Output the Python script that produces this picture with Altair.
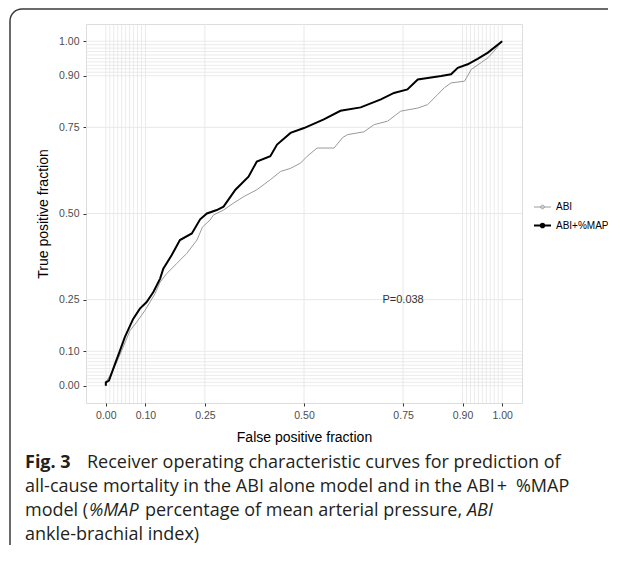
import altair as alt
import pandas as pd

# ---------------- data ----------------
series_names = ["ABI", "ABI+%MAP"]

abi_fpf = [0.0, 0.0, 0.018, 0.04, 0.061, 0.078, 0.099, 0.124, 0.137, 0.154, 0.179, 0.204,
           0.23, 0.244, 0.263, 0.272, 0.297, 0.322, 0.348, 0.381, 0.415, 0.441, 0.466,
           0.491, 0.508, 0.533, 0.576, 0.597, 0.61, 0.651, 0.677, 0.711, 0.744, 0.787,
           0.812, 0.837, 0.854, 0.871, 0.905, 0.922, 0.947, 0.964, 0.98, 1.0]
abi_tpf = [0.0, 0.01, 0.044, 0.102, 0.16, 0.185, 0.219, 0.267, 0.301, 0.326, 0.355, 0.384,
           0.423, 0.461, 0.481, 0.496, 0.51, 0.53, 0.549, 0.569, 0.598, 0.622, 0.631,
           0.646, 0.666, 0.69, 0.69, 0.72, 0.729, 0.737, 0.758, 0.768, 0.797, 0.806,
           0.816, 0.845, 0.865, 0.879, 0.884, 0.918, 0.938, 0.952, 0.972, 1.0]

map_fpf = [0.0, 0.0, 0.008, 0.023, 0.035, 0.048, 0.069, 0.086, 0.103, 0.12, 0.137, 0.145,
           0.166, 0.187, 0.217, 0.238, 0.255, 0.28, 0.297, 0.327, 0.36, 0.381, 0.415,
           0.432, 0.466, 0.5, 0.55, 0.592, 0.643, 0.694, 0.727, 0.761, 0.787, 0.846,
           0.871, 0.888, 0.913, 0.938, 0.964, 1.0]
map_tpf = [0.0, 0.01, 0.015, 0.063, 0.1, 0.141, 0.194, 0.224, 0.243, 0.272, 0.311, 0.34,
           0.379, 0.423, 0.442, 0.483, 0.5, 0.51, 0.52, 0.569, 0.607, 0.651, 0.666,
           0.7, 0.734, 0.748, 0.773, 0.798, 0.808, 0.831, 0.85, 0.86, 0.889, 0.899,
           0.904, 0.923, 0.933, 0.949, 0.967, 1.0]

major_breaks = [0.0, 0.1, 0.25, 0.5, 0.75, 0.9, 1.0]
major_grid = [0.25, 0.5, 0.75]
minor_breaks = [0.0, 0.01, 0.02, 0.03, 0.04, 0.05, 0.06, 0.07, 0.08, 0.09, 0.1,
                0.9, 0.91, 0.92, 0.93, 0.94, 0.95, 0.96, 0.97, 0.98, 0.99, 1.0]

x_title = "False positive fraction"
y_title = "True positive fraction"
p_label = ["P=0.038"]
p_pos_x = [0.75]
p_pos_y = [0.25]

cap_fig = "Fig. 3"
cap_l1 = "Receiver operating characteristic curves for prediction of"
cap_l2 = "all-cause mortality in the ABI alone model and in the ABI\u200a+\u2002%MAP"
cap_l3a = "model ("
cap_l3b = "%MAP"
cap_l3c = "percentage of mean arterial pressure,"
cap_l3d = "ABI"
cap_l4 = "ankle-brachial index)"

# ---------------- chart ----------------
W, H = 436, 379
AX_FONT = "Liberation Sans"
CAP_FONT = "Open Sans"
CAP_SIZE = 18

roc = pd.DataFrame({
    "fpf": abi_fpf + map_fpf,
    "tpf": abi_tpf + map_tpf,
    "model": [series_names[0]] * len(abi_fpf) + [series_names[1]] * len(map_fpf),
    "ord": list(range(len(abi_fpf))) + list(range(len(map_fpf))),
})

xs = alt.Scale(domain=[-0.05, 1.05], nice=False, zero=False)
ys = alt.Scale(domain=[-0.05, 1.05], nice=False, zero=False)

common_axis = dict(values=major_breaks, format=".2f", grid=False, domain=False,
                   tickSize=3, tickColor="#333333", tickWidth=1, labelPadding=4,
                   labelFont=AX_FONT, labelFontSize=10.5, labelColor="#4d4d4d",
                   titleFont=AX_FONT, titleFontSize=14, titleFontWeight="normal",
                   titleColor="#000000", labelOverlap=False, labelFlush=False)
xaxis = alt.Axis(title=x_title, titlePadding=10, **common_axis)
yaxis = alt.Axis(title=y_title, titlePadding=8, **common_axis)

frame = alt.Chart(pd.DataFrame({"a": [0]})).mark_rect(
    filled=False, stroke="#3a3a3a", strokeWidth=1.5, cornerRadius=12
).encode(x=alt.value(-76), x2=alt.value(700), y=alt.value(-15), y2=alt.value(700))

grid_minor_x = alt.Chart(pd.DataFrame({"v": minor_breaks})).mark_rule(
    color="#e3e3e3", strokeWidth=0.7
).encode(x=alt.X("v:Q", scale=xs, axis=xaxis), y=alt.value(0), y2=alt.value(H))
grid_minor_y = alt.Chart(pd.DataFrame({"v": minor_breaks})).mark_rule(
    color="#e3e3e3", strokeWidth=0.7
).encode(y=alt.Y("v:Q", scale=ys, axis=yaxis), x=alt.value(0), x2=alt.value(W))
grid_major_x = alt.Chart(pd.DataFrame({"v": major_grid})).mark_rule(
    color="#e8e8e8", strokeWidth=1
).encode(x=alt.X("v:Q", scale=xs, axis=xaxis), y=alt.value(0), y2=alt.value(H))
grid_major_y = alt.Chart(pd.DataFrame({"v": major_grid})).mark_rule(
    color="#e8e8e8", strokeWidth=1
).encode(y=alt.Y("v:Q", scale=ys, axis=yaxis), x=alt.value(0), x2=alt.value(W))

legend_def = dict(title=None, orient="none", legendX=447, legendY=174,
                  symbolType="M-1,0H1M-0.22,0A0.22,0.22 0 1,1 0.22,0A0.22,0.22 0 1,1 -0.22,0Z",
                  symbolSize=289, labelFont=AX_FONT, labelFontSize=10,
                  labelColor="#000000", labelOffset=4, rowPadding=4, padding=0)

lines = alt.Chart(roc).mark_line(interpolate="linear").encode(
    x=alt.X("fpf:Q", scale=xs, axis=xaxis),
    y=alt.Y("tpf:Q", scale=ys, axis=yaxis),
    color=alt.Color("model:N", scale=alt.Scale(domain=series_names, range=["#9a9a9a", "#000000"]),
                    legend=alt.Legend(**legend_def)),
    strokeWidth=alt.StrokeWidth("model:N", scale=alt.Scale(domain=series_names, range=[1.0, 2.0]),
                                legend=alt.Legend(**legend_def)),
    order="ord:Q",
)

ptext = alt.Chart(pd.DataFrame({"x": p_pos_x, "y": p_pos_y, "t": p_label})).mark_text(
    font=AX_FONT, fontSize=11, color="#333333", align="center", baseline="middle"
).encode(x=alt.X("x:Q", scale=xs, axis=xaxis), y=alt.Y("y:Q", scale=ys, axis=yaxis), text="t:N")


def cap(txt, px, py, weight="normal", style="normal"):
    return alt.Chart(pd.DataFrame({"t": [txt]})).mark_text(
        font=CAP_FONT, fontSize=CAP_SIZE, color="#231f20", align="left", baseline="alphabetic",
        fontWeight=weight, fontStyle=style
    ).encode(text="t:N", x=alt.value(px), y=alt.value(py))


caption = [
    cap(cap_fig, -61, 444, weight="bold"),
    cap(cap_l1, 1, 444),
    cap(cap_l2, -61, 468),
    cap(cap_l3a, -61, 492),
    cap(cap_l3b, 3, 492, style="italic"),
    cap(cap_l3c, 59, 492),
    cap(cap_l3d, 381, 492, style="italic"),
    cap(cap_l4, -61, 516),
]

chart = alt.layer(
    frame, grid_minor_x, grid_minor_y, grid_major_x, grid_major_y, lines, ptext, *caption
).properties(
    width=W, height=H,
    autosize=alt.AutoSizeParams(type="none"),
    padding={"left": 78, "top": 16, "right": 86, "bottom": 142},
).configure_view(stroke="#333333", strokeWidth=1).configure(background="white")

chart.save("out.html", embed_options={"renderer": "svg", "actions": False})
